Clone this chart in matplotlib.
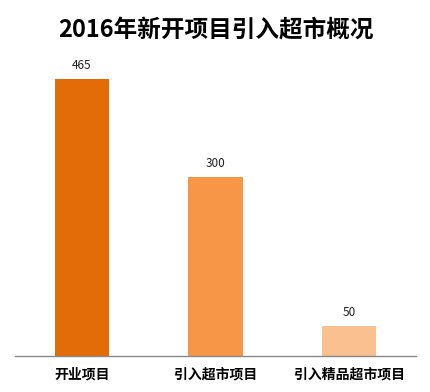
import matplotlib
matplotlib.use("Agg")
import matplotlib.pyplot as plt

plt.rcParams['font.family'] = ['Noto Sans CJK SC', 'DejaVu Sans']

categories = ["开业项目", "引入超市项目", "引入精品超市项目"]
values = [465, 300, 50]
colors = ["#E36C09", "#F79646", "#FAC090"]

fig = plt.figure(figsize=(4.31, 3.92), dpi=100)
ax = fig.add_axes([15/431, 36/392, 401/431, 298/392])

x = range(len(categories))
bars = ax.bar(x, values, width=0.405, color=colors)
for xi, v in zip(x, values):
    ax.text(xi, v + 12, str(v), ha="center", va="bottom", fontsize=8.5, color="#222222")

ax.set_xlim(-0.5, 2.5)
ax.set_ylim(0, 500)
ax.set_yticks([])
ax.set_xticks(list(x))
ax.set_xticklabels(categories, fontsize=10, fontweight="bold")
ax.tick_params(axis="x", length=0, pad=8)
for s in ["top", "right", "left"]:
    ax.spines[s].set_visible(False)
ax.spines["bottom"].set_color("#888888")
ax.spines["bottom"].set_linewidth(1)

fig.text(0.5, 1 - 30/392, "2016年新开项目引入超市概况", ha="center", va="center",
         fontsize=17, fontweight="bold")

fig.savefig("out.png", dpi=100)
